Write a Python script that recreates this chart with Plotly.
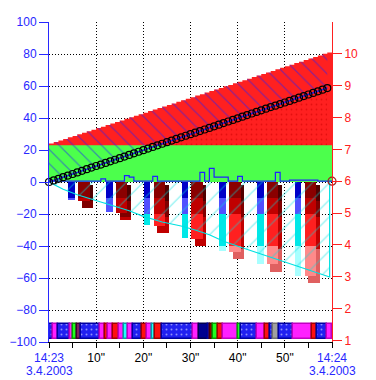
import plotly.graph_objects as go

# ---------------- data ----------------
secs = list(range(61))
top_vals = [24.0, 25.0, 25.9, 26.9, 27.9, 28.8, 29.8, 30.8, 31.7, 32.7,
            33.7, 34.6, 35.6, 36.6, 37.5, 38.5, 39.5, 40.4, 41.4, 42.4,
            43.3, 44.3, 45.3, 46.2, 47.2, 48.2, 49.1, 50.1, 51.1, 52.0,
            53.0, 54.0, 54.9, 55.9, 56.9, 57.8, 58.8, 59.8, 60.7, 61.7,
            62.7, 63.6, 64.6, 65.6, 66.5, 67.5, 68.5, 69.4, 70.4, 71.4,
            72.3, 73.3, 74.3, 75.2, 76.2, 77.2, 78.1, 79.1, 80.1, 81.0, 82.0]

circle_secs = list(range(60))
circle_vals = [0.0, 1.0, 2.0, 3.0, 4.0, 5.0, 6.0, 7.0, 8.0, 9.0,
               10.0, 10.9, 11.9, 12.9, 13.9, 14.9, 15.9, 16.9, 17.9, 18.9,
               19.9, 20.9, 21.9, 22.9, 23.9, 24.9, 25.9, 26.9, 27.9, 28.9,
               29.9, 30.8, 31.8, 32.8, 33.8, 34.8, 35.8, 36.8, 37.8, 38.8,
               39.8, 40.8, 41.8, 42.8, 43.8, 44.8, 45.8, 46.8, 47.7, 48.7,
               49.7, 50.7, 51.7, 52.7, 53.7, 54.7, 55.7, 56.7, 57.7, 58.7]

step_vals = [0.5, 0.5, 0.5, 0.5, 0.5, 0.5, 0.5, 0.5, 0.5, 0.5,
             0.5, 2.0, 0.5, 0.5, 0.5, 0.5, 4.0, 3.0, 0.5, 0.5,
             0.5, 0.5, 3.5, 0.5, 0.5, 0.5, 0.5, 0.5, 0.5, 0.5,
             0.5, 0.5, 6.0, 0.5, 8.5, 3.0, 3.0, 3.0, 0.5, 0.5,
             3.5, 0.5, 0.5, 0.5, 0.5, 0.5, 0.5, 0.5, 6.0, 0.5,
             0.5, 1.2, 1.2, 1.2, 1.2, 1.2, 1.2, 0.5, 0.5, 0.5, 0.5]
green_top = [23, 23]
green_secs = [0, 60]

cyan_secs = [0, 3, 6, 10, 14, 17, 20, 24, 28, 31, 34, 37, 40.5, 45, 50, 55, 59.5, 59.5]
cyan_vals = [0, -4.5, -8, -11.5, -15, -18, -21.5, -25, -27.5, -30, -33, -37, -40.6,
             -45, -50, -55, -59.4, 0]

blue_bar_secs = [4.8, 12.8, 20.8, 28.8, 36.8, 44.8, 52.8]
blue_bar_vals = [-11.5, -19, -27, -35, -43, -51, -59]
red_bar_secs = [7.4, 15.4, 23.4, 31.4, 39.4, 47.4, 55.4]
red_bar_vals = [-12, -19.5, -27.5, -35.5, -43.5, -51.5, -58.5]

strip_starts = [0.0, 0.85, 1.9, 4.45, 5.1, 5.9, 6.8, 10.8, 11.9, 12.5, 13.6, 14.8,
                15.9, 16.7, 17.8, 19.7, 20.8, 21.8, 22.5, 24.0, 30.5, 31.8, 33.7,
                34.1, 34.8, 35.8, 36.9, 40.1, 40.8, 44.1, 45.8, 46.9, 47.5, 48.8,
                51.7, 55.8, 56.8, 58.9]
strip_ends = strip_starts[1:] + [60.0]
strip_kinds = ["blue", "magenta", "blue", "magenta", "green", "purple", "blue",
               "magenta", "red", "magenta", "red", "magenta", "cyan", "magenta",
               "blue", "red", "magenta", "cyan", "red", "blue", "magenta",
               "darkblue", "blue", "darkred", "green", "red", "magenta", "green",
               "blue", "magenta", "red", "blue", "gray", "blue", "magenta", "red",
               "blue", "magenta"]
strip_level = -93.4

x_tickvals = [0, 10, 20, 30, 40, 50, 60]
x_ticktext = ['<span style="color:#2828ff">14:23</span>', '10"', '20"', '30"',
              '40"', '50"', '<span style="color:#2828ff">14:24</span>']
date_secs = [0, 60]
date_labels = ["3.4.2003", "3.4.2003"]
left_ticks = [-100, -80, -60, -40, -20, 0, 20, 40, 60, 80, 100]
right_ticks = [1, 2, 3, 4, 5, 6, 7, 8, 9, 10]

# ---------------- styles ----------------
BLUE = "#2828ff"
RED = "#ff2020"
FONT = "Liberation Sans, Arial, sans-serif"
strip_style = {
    "blue": ("#2020f0", "#0000a0", "."),
    "magenta": ("#ff20ff", "#c000c0", ""),
    "red": ("#ff1010", "#a00000", ""),
    "cyan": ("#20ffff", "#00a0a0", ""),
    "green": ("#20ff20", "#00a000", ""),
    "purple": ("#802060", "#400030", ""),
    "darkblue": ("#000090", "#000050", ""),
    "darkred": ("#900000", "#500000", ""),
    "gray": ("#a0a0a0", "#707070", ""),
}
bands = [(0, -10), (-10, -20), (-20, -40), (-40, -100)]
blue_band_colors = ["#0000c8", "#5050ff", "#00e8e8", "#a8ffff"]
red_band_colors = ["#8a0000", "#c00000", "#ff2020", "#ff8a8a"]
red_shadow_colors = ["#500000", "#800000", "#c00000", "#e06060"]

fig = go.Figure()

# red area under the stepped top line
fig.add_trace(go.Scatter(x=secs, y=top_vals, mode="lines", line=dict(shape="hv", width=0, color=RED),
                         fill="tozeroy", fillcolor="#ff2020", hoverinfo="skip"))
# dotted red under circle line
fig.add_trace(go.Scatter(x=circle_secs, y=circle_vals, mode="lines", line=dict(width=0),
                         fill="tozeroy", fillcolor="#ff2020",
                         fillpattern=dict(shape=".", fgcolor="#c80000", bgcolor="#ff2020", size=5, solidity=0.1),
                         hoverinfo="skip"))
# green band from 0 to 23
fig.add_trace(go.Scatter(x=green_secs, y=green_top, mode="lines", line=dict(width=0),
                         fill="tozeroy", fillcolor="#4cff4c", hoverinfo="skip"))
# blue hatch between circle line and top line
fig.add_trace(go.Scatter(x=circle_secs, y=circle_vals, mode="lines", line=dict(width=0), hoverinfo="skip"))
fig.add_trace(go.Scatter(x=secs[:60], y=top_vals[:60], mode="lines", line=dict(shape="hv", width=0),
                         fill="tonexty", fillcolor="rgba(0,0,0,0)",
                         fillpattern=dict(shape="\\", fgcolor="#2020ff", bgcolor="rgba(0,0,0,0)",
                                          size=10, solidity=0.12),
                         hoverinfo="skip"))
# blue step line along the bottom of the green band
fig.add_trace(go.Scatter(x=secs, y=step_vals, mode="lines", line=dict(shape="hv", width=1.2, color="#2020ff"),
                         hoverinfo="skip"))

# red 3D bars (shadow then front)
for (b0, b1), sc in zip(bands, red_shadow_colors):
    sh_y = []
    for v in red_bar_vals:
        vs = v - 2.5
        sh_y.append(max(vs, b1) - b0 if vs < b0 else None)
    fig.add_trace(go.Bar(x=[s + 0.75 for s in red_bar_secs], y=sh_y, base=[b0 - 2.0] * len(red_bar_secs),
                         width=2.4, marker=dict(color=sc, line=dict(width=0)), hoverinfo="skip"))
for (b0, b1), fc in zip(bands, red_band_colors):
    fr_y = [max(v, b1) - b0 if v < b0 else None for v in red_bar_vals]
    fig.add_trace(go.Bar(x=red_bar_secs, y=fr_y, base=[b0] * len(red_bar_secs), width=2.4,
                         marker=dict(color=fc, line=dict(width=0)), hoverinfo="skip"))
# blue banded bars
for (b0, b1), bc in zip(bands, blue_band_colors):
    yv = [max(v, b1) - b0 if v < b0 else None for v in blue_bar_vals]
    fig.add_trace(go.Bar(x=blue_bar_secs, y=yv, base=[b0] * len(blue_bar_secs), width=1.4,
                         marker=dict(color=bc, line=dict(width=0)), hoverinfo="skip"))

# colored strip at the bottom
fig.add_trace(go.Bar(
    y=[strip_level] * len(strip_starts),
    x=[e - s for s, e in zip(strip_starts, strip_ends)],
    base=strip_starts, orientation="h", width=9.4,
    marker=dict(color=[strip_style[k][0] for k in strip_kinds],
                line=dict(color=[strip_style[k][1] for k in strip_kinds], width=1.5),
                pattern=dict(shape=[strip_style[k][2] for k in strip_kinds],
                             fgcolor=[strip_style[k][1] for k in strip_kinds],
                             size=5, solidity=0.12)),
    hoverinfo="skip"))

# cyan hatched area
fig.add_trace(go.Scatter(x=cyan_secs, y=cyan_vals, mode="lines", line=dict(color="#00e0e0", width=1.2),
                         fill="tozeroy", fillcolor="rgba(0,0,0,0)",
                         fillpattern=dict(shape="/", fgcolor="#00e0e0", bgcolor="rgba(0,0,0,0)",
                                          size=12, solidity=0.1),
                         hoverinfo="skip"))

# circle line
fig.add_trace(go.Scatter(x=circle_secs, y=circle_vals, mode="lines+markers",
                         line=dict(color="#2020ff", width=1.5),
                         marker=dict(symbol="circle-open", size=7, color="black",
                                     line=dict(color="black", width=1.2)),
                         cliponaxis=False, hoverinfo="skip"))

# right-axis marker
fig.add_trace(go.Scatter(x=[60], y=[6], yaxis="y2", mode="markers",
                         marker=dict(symbol="circle-open", size=8, color="#a02020", line=dict(width=1.2)),
                         cliponaxis=False, hoverinfo="skip"))

# date line under the first/last time labels
for ds, dl in zip(date_secs, date_labels):
    fig.add_annotation(x=ds, xref="x", y=0, yref="paper", yanchor="top", yshift=-21, borderpad=0,
                       text=dl, showarrow=False, font=dict(family=FONT, size=12, color=BLUE))

# the page body adds an 8px offset, so the figure is 8px smaller and shifted margins
fig.update_layout(
    width=368, height=372,
    margin=dict(l=41, r=44, t=14, b=38, autoexpand=False),
    paper_bgcolor="white", plot_bgcolor="white",
    showlegend=False, barmode="overlay", bargap=0,
    font=dict(family=FONT, size=12, color="black"),
    xaxis=dict(range=[0, 60], tickvals=x_tickvals, ticktext=x_ticktext, ticks="outside",
               ticklen=5, tickcolor="black", showline=True, linecolor="black", linewidth=1,
               showgrid=True, gridcolor="black", griddash="1px,2px", gridwidth=1, zeroline=False,
               automargin=False,
               minor=dict(dtick=5, tick0=0, ticks="outside", ticklen=5, tickcolor="black", showgrid=False),
               tickfont=dict(family=FONT, size=12, color="black")),
    yaxis=dict(range=[-100, 100], tickvals=left_ticks, ticks="outside", ticklen=9, tickcolor=BLUE,
               showline=True, linecolor=BLUE, linewidth=1, showgrid=True, gridcolor="black",
               griddash="1px,2px", gridwidth=1, zeroline=False, automargin=False,
               tickfont=dict(family=FONT, size=12, color=BLUE)),
    yaxis2=dict(range=[0.95, 11], overlaying="y", side="right", tickvals=right_ticks, ticks="outside",
                ticklen=9, tickcolor=RED, showline=True, linecolor=RED, linewidth=1, showgrid=False,
                zeroline=False, automargin=False, tickfont=dict(family=FONT, size=12, color=RED)),
)

fig.write_html("out.html")
